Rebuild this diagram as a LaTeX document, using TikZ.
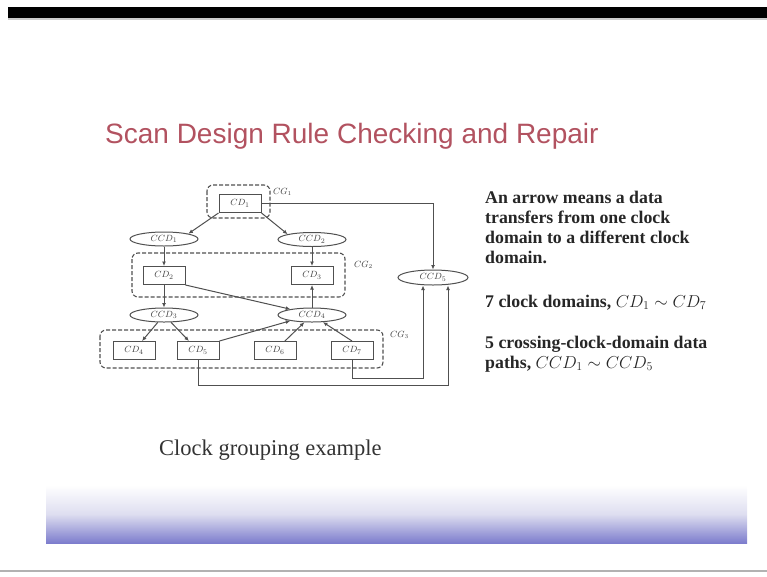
\documentclass[tikz,border=0pt]{standalone}
\usepackage{fontspec}
\setmainfont{Liberation Serif}
\newfontfamily\titlefont{Liberation Sans}
\usetikzlibrary{arrows.meta,shapes.geometric}

\definecolor{titlered}{RGB}{178,82,96}
\definecolor{bandblue}{RGB}{125,125,205}
\definecolor{linegray}{RGB}{80,80,80}

\tikzset{
  cdbox/.style={draw=linegray, line width=1pt, minimum width=42pt, minimum height=18pt,
    inner sep=0pt, text=black!75, font=\fontsize{9.5}{10}\selectfont},
  ccdoval/.style={ellipse, draw=linegray, line width=1pt, minimum width=68pt, minimum height=14pt,
    inner sep=0pt, text=black!75, font=\fontsize{9.5}{10}\selectfont},
  group/.style={draw=linegray, line width=1.1pt, dash pattern=on 4pt off 2pt, rounded corners=6pt},
  grouplabel/.style={anchor=west, inner sep=0pt, text=black!75, font=\fontsize{9}{10}\selectfont},
  xfer/.style={draw=linegray, line width=1pt, -{Latex[length=4.5pt,width=4pt]}},
  note/.style={inner sep=0pt, align=left, text=black!85, font=\fontsize{17.8}{20}\selectfont\bfseries}
}

\begin{document}
\begin{tikzpicture}[x=1pt, y=-1pt]
  \useasboundingbox (0,0) rectangle (767,576);

  %% slide frame
  \fill[black] (8,7) rectangle (767,18);
  \fill[black!20] (8,18) rectangle (767,20);
  \shade[top color=white, bottom color=bandblue, middle color={rgb,255:red,222;green,222;blue,240}]
    (46,485) rectangle (747,543);
  \draw[black!30, line width=1.5pt] (0,571) -- (767,571);

  \node[anchor=base west, inner sep=0pt, text=titlered, font=\titlefont\fontsize{28}{32}\selectfont]
    (title) at (105,143) {Scan Design Rule Checking and Repair};

  %% clock groups
  \draw[group] (207,185) rectangle (270,218);
  \draw[group] (132,253) rectangle (345,297);
  \draw[group] (100,330) rectangle (383,368);
  \node[grouplabel] (cg1) at (273,192) {$CG_1$};
  \node[grouplabel] (cg2) at (354,265) {$CG_2$};
  \node[grouplabel] (cg3) at (390,335) {$CG_3$};

  %% clock domains
  \node[cdbox] (cd1) at (240,203.5) {$CD_1$};
  \node[cdbox] (cd2) at (164,275.5) {$CD_2$};
  \node[cdbox] (cd3) at (312,275.5) {$CD_3$};
  \node[cdbox] (cd4) at (134,350.5) {$CD_4$};
  \node[cdbox] (cd5) at (198,350.5) {$CD_5$};
  \node[cdbox] (cd6) at (275,350.5) {$CD_6$};
  \node[cdbox] (cd7) at (352,350.5) {$CD_7$};

  %% crossing paths
  \node[ccdoval] (ccd1) at (164,239) {$CCD_1$};
  \node[ccdoval] (ccd2) at (312,239.5) {$CCD_2$};
  \node[ccdoval] (ccd3) at (164,315) {$CCD_3$};
  \node[ccdoval] (ccd4) at (312,315) {$CCD_4$};
  \node[ccdoval, minimum width=70pt, minimum height=15pt] (ccd5) at (433,277.5) {$CCD_5$};

  \coordinate (low7) at (423,378);
  \coordinate (low5) at (448,385);

  %% transfers
  \draw[xfer] (cd1.south west) -- (ccd1.north east);
  \draw[xfer] (cd1.south east) -- (ccd2.north west);
  \draw[xfer] (cd1.east) -| (ccd5.north);
  \draw[xfer] (ccd1) -- (cd2);
  \draw[xfer] (ccd2) -- (cd3);
  \draw[xfer] (cd2) -- (ccd3);
  \draw[xfer] (cd2.south east) -- (ccd4.165);
  \draw[xfer] (ccd4) -- (cd3);
  \draw[xfer] (ccd3) -- (cd4);
  \draw[xfer] (ccd3) -- (cd5);
  \draw[xfer] (cd5.north east) -- (ccd4.195);
  \draw[xfer] (cd6) -- (ccd4);
  \draw[xfer] (cd7.north) -- (ccd4);
  \draw[xfer] (cd7.south) |- (low7) -- (low7 |- ccd5.south);
  \draw[xfer] (cd5.south) |- (low5) -- (low5 |- ccd5.south);

  %% notes
  \node[note, anchor=north west] (note1) at (485,190.5)
    {An arrow means a data\\transfers from one clock\\domain to a different clock\\domain.};
  \node[note, anchor=base west] (note2) at (485,307) {7 clock domains, $CD_1 \sim CD_7$};
  \node[note, anchor=north west] (note3) at (485,335.5)
    {5 crossing-clock-domain data\\paths, $CCD_1 \sim CCD_5$};

  \node[anchor=base west, inner sep=0pt, text=black!80, font=\fontsize{22.5}{26}\selectfont]
    (caption) at (159,455) {Clock grouping example};
\end{tikzpicture}
\end{document}
